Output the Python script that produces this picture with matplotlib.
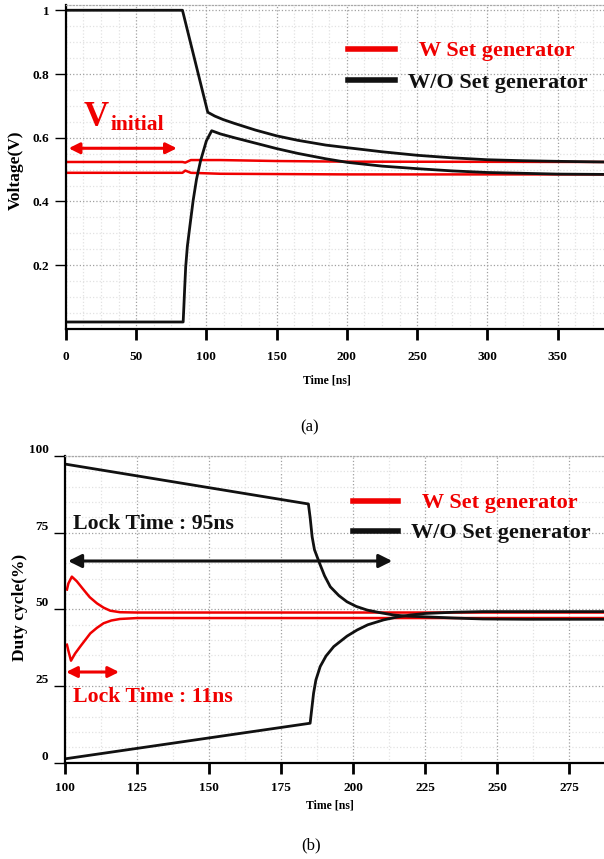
import numpy as np
import matplotlib.pyplot as plt
from matplotlib.ticker import MultipleLocator, AutoMinorLocator

plt.rcParams['font.family'] = ['Liberation Serif', 'DejaVu Serif']

RED = '#f00000'
BLK = '#111111'

# ---- (a) voltage vs time ----
t_a_hi = [0, 83, 101, 106, 112, 120, 135, 150, 165, 185, 200, 225, 250, 275, 300, 325, 350, 383]
v_a_hi = [1.0, 1.0, 0.680, 0.668, 0.657, 0.645, 0.624, 0.606, 0.592, 0.577, 0.569, 0.556, 0.545, 0.537, 0.531, 0.528, 0.526, 0.524]

t_a_lo = [0, 83.5, 84, 84.6, 85.3, 86.5, 88.2, 90.6, 93, 95.9, 100, 103.8, 110, 120, 135, 150, 165, 185, 200, 225, 250, 275, 300, 350, 383]
v_a_lo = [0.022, 0.022, 0.07, 0.13, 0.195, 0.26, 0.32, 0.403, 0.47, 0.528, 0.59, 0.622, 0.612, 0.600, 0.583, 0.566, 0.551, 0.534, 0.523, 0.511, 0.503, 0.496, 0.491, 0.486, 0.485]

t_a_red_hi = [0, 83, 85, 89, 110, 150, 200, 383]
v_a_red_hi = [0.524, 0.524, 0.522, 0.530, 0.530, 0.527, 0.525, 0.524]
t_a_red_lo = [0, 83, 85, 89, 110, 200, 383]
v_a_red_lo = [0.490, 0.490, 0.497, 0.490, 0.487, 0.485, 0.485]

# ---- (b) duty cycle vs time ----
t_b_hi = [100, 184.4, 185, 185.7, 186.5, 188.3, 190, 192, 195, 197.8, 201, 204.8, 209, 213.9, 219, 225, 235, 245, 260, 287]
d_b_hi = [97.4, 84.4, 80, 73.7, 69.5, 65, 61, 57.4, 54.5, 52.5, 51.0, 49.8, 49.0, 48.2, 47.8, 47.6, 47.2, 46.9, 46.8, 46.8]

t_b_lo = [100, 185, 185.5, 186.2, 187, 188.5, 190.5, 193.2, 197.8, 201.3, 205, 210.5, 215, 219.8, 225, 235, 245, 260, 287]
d_b_lo = [1.3, 12.9, 17, 22.7, 27, 31.4, 34.8, 37.9, 41.3, 43.3, 45.0, 46.6, 47.5, 48.2, 48.7, 49.1, 49.3, 49.3, 49.3]

t_b_red_hi = [100.6, 101.1, 102.3, 104, 106.4, 108.5, 111, 113.3, 115.6, 119, 125, 287]
d_b_red_hi = [56.5, 58.5, 60.7, 59.2, 56.4, 54.0, 52.0, 50.6, 49.6, 49.1, 49.0, 49.0]
t_b_red_lo = [100.6, 101.1, 102, 103.4, 105.2, 108.7, 111, 113.3, 116, 119, 125, 287]
d_b_red_lo = [38.5, 36.5, 33.3, 35.6, 37.9, 42.2, 44.0, 45.5, 46.4, 46.9, 47.2, 47.2]

legend_labels = ['  W Set generator', 'W/O Set generator']

fig = plt.figure(figsize=(6.04, 8.59), dpi=100)
ax1 = fig.add_axes([0.109, 0.617, 0.891, 0.377])
ax2 = fig.add_axes([0.108, 0.112, 0.892, 0.357])


def style_axes(ax, ylab):
    ax.spines['right'].set_visible(False)
    ax.spines['top'].set_linestyle(':')
    ax.spines['top'].set_color('#a8a8a8')
    ax.spines['top'].set_linewidth(0.9)
    for s in ['left', 'bottom']:
        ax.spines[s].set_linewidth(1.6)
        ax.spines[s].set_color('black')
    ax.grid(which='major', color='#a0a0a0', linestyle=':', linewidth=0.9)
    ax.grid(which='minor', color='#e2e2e2', linestyle=':', linewidth=0.9)
    ax.tick_params(axis='x', which='major', direction='out', length=8, width=2.0, pad=8)
    ax.tick_params(axis='y', which='major', direction='out', length=8, width=1.0, pad=4)
    ax.tick_params(which='minor', length=0)
    for lbl in ax.get_xticklabels() + ax.get_yticklabels():
        lbl.set_fontweight('bold')
        lbl.set_fontsize(9.5)
    ax.set_xlabel('Time [ns]', fontsize=8.5, fontweight='bold')
    ax.set_ylabel(ylab, fontsize=12.5, fontweight='bold')
    ax.set_axisbelow(True)


# (a)
ax1.plot(t_a_red_hi, v_a_red_hi, color=RED, lw=1.8, label=legend_labels[0])
ax1.plot(t_a_red_lo, v_a_red_lo, color=RED, lw=1.8)
ax1.plot(t_a_hi, v_a_hi, color=BLK, lw=2.0, label=legend_labels[1])
ax1.plot(t_a_lo, v_a_lo, color=BLK, lw=2.0)
ax1.set_xlim(0, 383)
ax1.set_ylim(0, 1.016)
ax1.xaxis.set_major_locator(MultipleLocator(50))
ax1.xaxis.set_minor_locator(AutoMinorLocator(4))
ax1.set_yticks([0.2, 0.4, 0.6, 0.8, 1.0])
ax1.set_yticklabels(['0.2', '0.4', '0.6', '0.8', '1'])
ax1.yaxis.set_minor_locator(MultipleLocator(0.05))
style_axes(ax1, 'Voltage(V)')
ax1.xaxis.set_label_coords(0.485, -0.14)
ax1.yaxis.set_label_coords(-0.078, 0.49)

ax1.annotate('', xy=(2, 0.567), xytext=(79, 0.567),
             arrowprops=dict(arrowstyle='<|-|>', color=RED, lw=2.2, mutation_scale=16,
                             shrinkA=0, shrinkB=0))
ax1.text(12.8, 0.6375, 'V', color=RED, fontsize=25, fontweight='bold', ha='left', va='baseline')
ax1.text(31.5, 0.625, 'initial', color=RED, fontsize=15.5, fontweight='bold', ha='left', va='baseline')

leg1 = ax1.legend(loc='upper left', bbox_to_anchor=(0.525, 0.89), frameon=False,
                  handlelength=2.1, handletextpad=0.6, labelspacing=0.5,
                  borderpad=0, borderaxespad=0, labelcolor=[RED, BLK],
                  prop={'weight': 'bold', 'size': 16})
for h in leg1.get_lines():
    h.set_linewidth(4)

# (b)
ax2.plot(t_b_red_hi, d_b_red_hi, color=RED, lw=1.8, label=legend_labels[0])
ax2.plot(t_b_red_lo, d_b_red_lo, color=RED, lw=1.8)
ax2.plot(t_b_hi, d_b_hi, color=BLK, lw=2.0, label=legend_labels[1])
ax2.plot(t_b_lo, d_b_lo, color=BLK, lw=2.0)
ax2.set_xlim(100, 287)
ax2.set_ylim(0, 100)
ax2.xaxis.set_major_locator(MultipleLocator(25))
ax2.xaxis.set_minor_locator(AutoMinorLocator(2))
ax2.yaxis.set_major_locator(MultipleLocator(25))
ax2.yaxis.set_minor_locator(MultipleLocator(5))
style_axes(ax2, 'Duty cycle(%)')
ax2.tick_params(axis='x', which='major', pad=6)
for lbl in ax2.get_yticklabels():
    lbl.set_va('bottom')
ax2.xaxis.set_label_coords(0.492, -0.12)
ax2.yaxis.set_label_coords(-0.07, 0.505)

ax2.annotate('', xy=(101, 65.8), xytext=(213.5, 65.8),
             arrowprops=dict(arrowstyle='<|-|>', color=BLK, lw=2.2, mutation_scale=20,
                             shrinkA=0, shrinkB=0))
ax2.text(102.8, 77.8, 'Lock Time : 95ns', color=BLK, fontsize=15.7, fontweight='bold',
         ha='left', va='center')
ax2.annotate('', xy=(100.3, 29.6), xytext=(118.7, 29.6),
             arrowprops=dict(arrowstyle='<|-|>', color=RED, lw=2.2, mutation_scale=16,
                             shrinkA=0, shrinkB=0))
ax2.text(102.8, 21.3, 'Lock Time : 11ns', color=RED, fontsize=15.7, fontweight='bold',
         ha='left', va='center')

leg2 = ax2.legend(loc='upper left', bbox_to_anchor=(0.535, 0.88), frameon=False,
                  handlelength=2.0, handletextpad=0.6, labelspacing=0.42,
                  borderpad=0, borderaxespad=0, labelcolor=[RED, BLK],
                  prop={'weight': 'bold', 'size': 16})
for h in leg2.get_lines():
    h.set_linewidth(4)

fig.text(0.513, 1 - 427 / 859, '(a)', fontsize=12, ha='center', va='center')
fig.text(0.515, 1 - 845 / 859, '(b)', fontsize=12, ha='center', va='center')

fig.savefig('out.png', dpi=100)
